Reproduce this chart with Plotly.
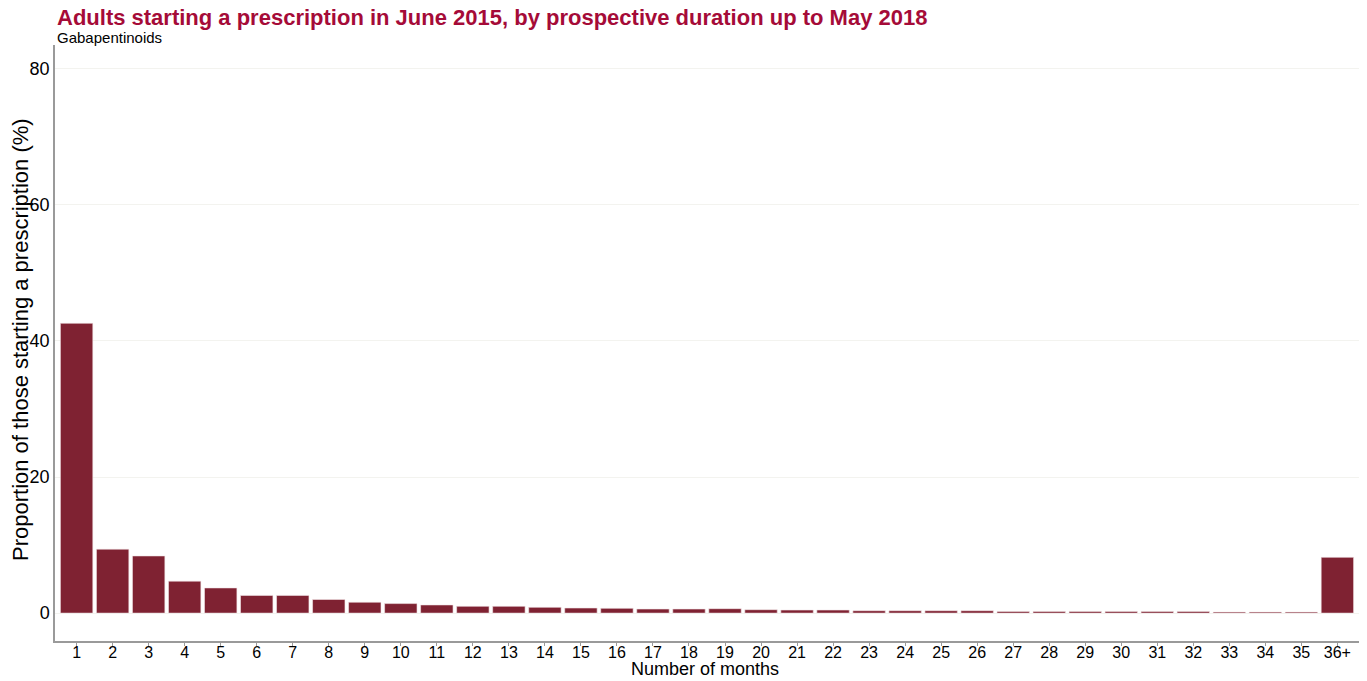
import plotly.graph_objects as go

months = [str(i) for i in range(1, 36)] + ["36+"]
proportion = [42.6, 9.4, 8.4, 4.7, 3.7, 2.6, 2.6, 2.0, 1.6, 1.4, 1.2, 1.0, 1.0, 0.85,
              0.75, 0.7, 0.6, 0.6, 0.65, 0.5, 0.45, 0.45, 0.35, 0.35, 0.35, 0.35,
              0.25, 0.25, 0.25, 0.25, 0.25, 0.25, 0.15, 0.15, 0.15, 8.2]
y_ticks = [0, 20, 40, 60, 80]

W, H = 1367, 681
L, R, T, B = 55, 8, 45, 40
pw, ph = W - L - R, H - T - B

def py(p):  # screen pixel row -> paper y
    return (H - B - p) / ph

def px(p):  # screen pixel col -> paper x
    return (p - L) / pw

fig = go.Figure(go.Bar(
    x=months, y=proportion, width=0.9,
    marker=dict(color="#7F2232", line=dict(color="#f4e8ea", width=0.6)),
))

fig.update_layout(
    width=W, height=H,
    margin=dict(l=L, r=R, t=T, b=B, autoexpand=False),
    plot_bgcolor="white", paper_bgcolor="white",
    font=dict(family="Arial, Liberation Sans, sans-serif", color="black"),
    showlegend=False,
    annotations=[
        dict(text="<b>Adults starting a prescription in June 2015, by prospective duration up to May 2018</b>",
             xref="paper", yref="paper", x=0, y=py(18), xanchor="left", yanchor="middle",
             showarrow=False, font=dict(size=22, color="#A50B38")),
        dict(text="Gabapentinoids",
             xref="paper", yref="paper", x=0, y=py(37), xanchor="left", yanchor="middle",
             showarrow=False, font=dict(size=15, color="black")),
        dict(text="Number of months",
             xref="paper", yref="paper", x=px(705), y=py(669), xanchor="center", yanchor="middle",
             showarrow=False, font=dict(size=18, color="black")),
        dict(text="Proportion of those starting a prescription (%)", textangle=-90,
             xref="paper", yref="paper", x=px(20), y=py(340), xanchor="center", yanchor="middle",
             showarrow=False, font=dict(size=22, color="black")),
    ],
)
fig.update_xaxes(
    type="category", range=[-0.6, 35.6], automargin=False,
    showline=True, linecolor="#9a9a9a", linewidth=1.5,
    ticks="outside", ticklen=3, tickcolor="#9a9a9a",
    ticklabelstandoff=-7,
    tickfont=dict(size=16), showgrid=False,
)
fig.update_yaxes(
    range=[-4.1, 83.5], tickvals=y_ticks, automargin=False,
    showline=True, linecolor="#9a9a9a", linewidth=1.5,
    ticks="", tickfont=dict(size=18),
    showgrid=True, gridcolor="#f3f3ef", gridwidth=1, zeroline=False,
)

fig.write_html("out.html", config={"displayModeBar": False},
               post_script="document.body.style.margin='0';")
